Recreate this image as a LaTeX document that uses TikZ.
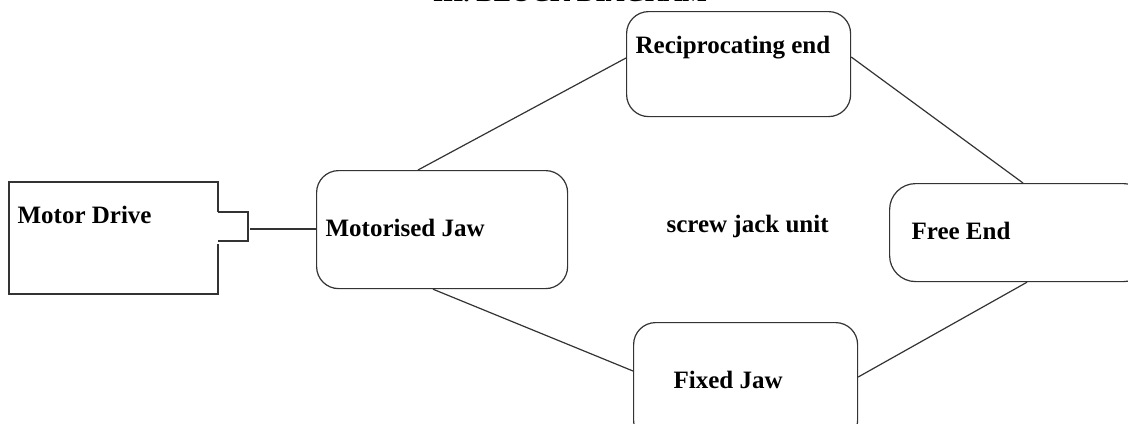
\documentclass[tikz,border=0pt]{standalone}
\usepackage{fontspec}
\setmainfont{Liberation Serif}
\usetikzlibrary{calc}
\begin{document}
\begin{tikzpicture}[x=0.5pt,y=-0.5pt,
  line width=0.6pt, draw=black!80,
  blk/.style={draw=black!80, line width=0.6pt, rounded corners=11pt, inner sep=0pt},
  lbl/.style={anchor=base west, inner sep=0pt, font=\bfseries\fontsize{12.5}{14}\selectfont},
  link/.style={draw=black!80, line width=0.6pt}]
\path[use as bounding box, clip] (0,0) rectangle (1128,423);
\fill[white] (0,0) rectangle (1128,423);
% title (cut off at top, as in the reference)
\node[anchor=base, inner sep=0pt, font=\bfseries\fontsize{13}{15}\selectfont] (title) at (570,1.5) {III. BLOCK DIAGRAM};
% motor drive
\coordinate (md1) at (218,212);
\coordinate (md2) at (218,244);
\draw (md1) -- (218,182) -- (9,182) -- (9,294) -- (218,294) -- (md2);
\node[lbl] (mdt) at (17,223) {Motor Drive};
% shaft square
\coordinate (sq1) at (218,212);
\coordinate (sq2) at (218,241);
\draw (sq1) -- (248,212) -- (248,241) -- (sq2);
\coordinate (shaft) at (250,229);
% boxes
\node[blk, minimum width=251pt*0.5, minimum height=118pt*0.5, anchor=north west] (mjaw) at (316,170) {};
\node[lbl] (mjawt) at (325,236) {Motorised Jaw};
\node[blk, minimum width=224pt*0.5, minimum height=105pt*0.5, anchor=north west] (recip) at (626,11) {};
\node[lbl] (recipt) at (635,53) {Reciprocating end};
\node[blk, rounded corners=13pt, minimum width=260pt*0.5, minimum height=98pt*0.5, anchor=north west] (free) at (889,183) {};
\node[lbl] (freet) at (911,239) {Free End};
\node[blk, minimum width=224pt*0.5, minimum height=120pt*0.5, anchor=north west] (fixed) at (633,322) {};
\node[lbl] (fixedt) at (673,388) {Fixed Jaw};
\node[lbl] (unit) at (666,232) {screw jack unit};
% connectors
\draw[link] (shaft) -- (mjaw.west |- shaft);
\draw[link] ($(mjaw.north west)+(102,0)$) -- ($(recip.north west)+(0,47)$);
\draw[link] ($(recip.north east)+(0,46)$) -- ($(free.north west)+(134,0)$);
\draw[link] ($(mjaw.south west)+(117,0)$) -- ($(fixed.north west)+(0,49)$);
\draw[link] ($(fixed.north east)+(0,55)$) -- ($(free.south west)+(138,0)$);
\end{tikzpicture}
\end{document}
